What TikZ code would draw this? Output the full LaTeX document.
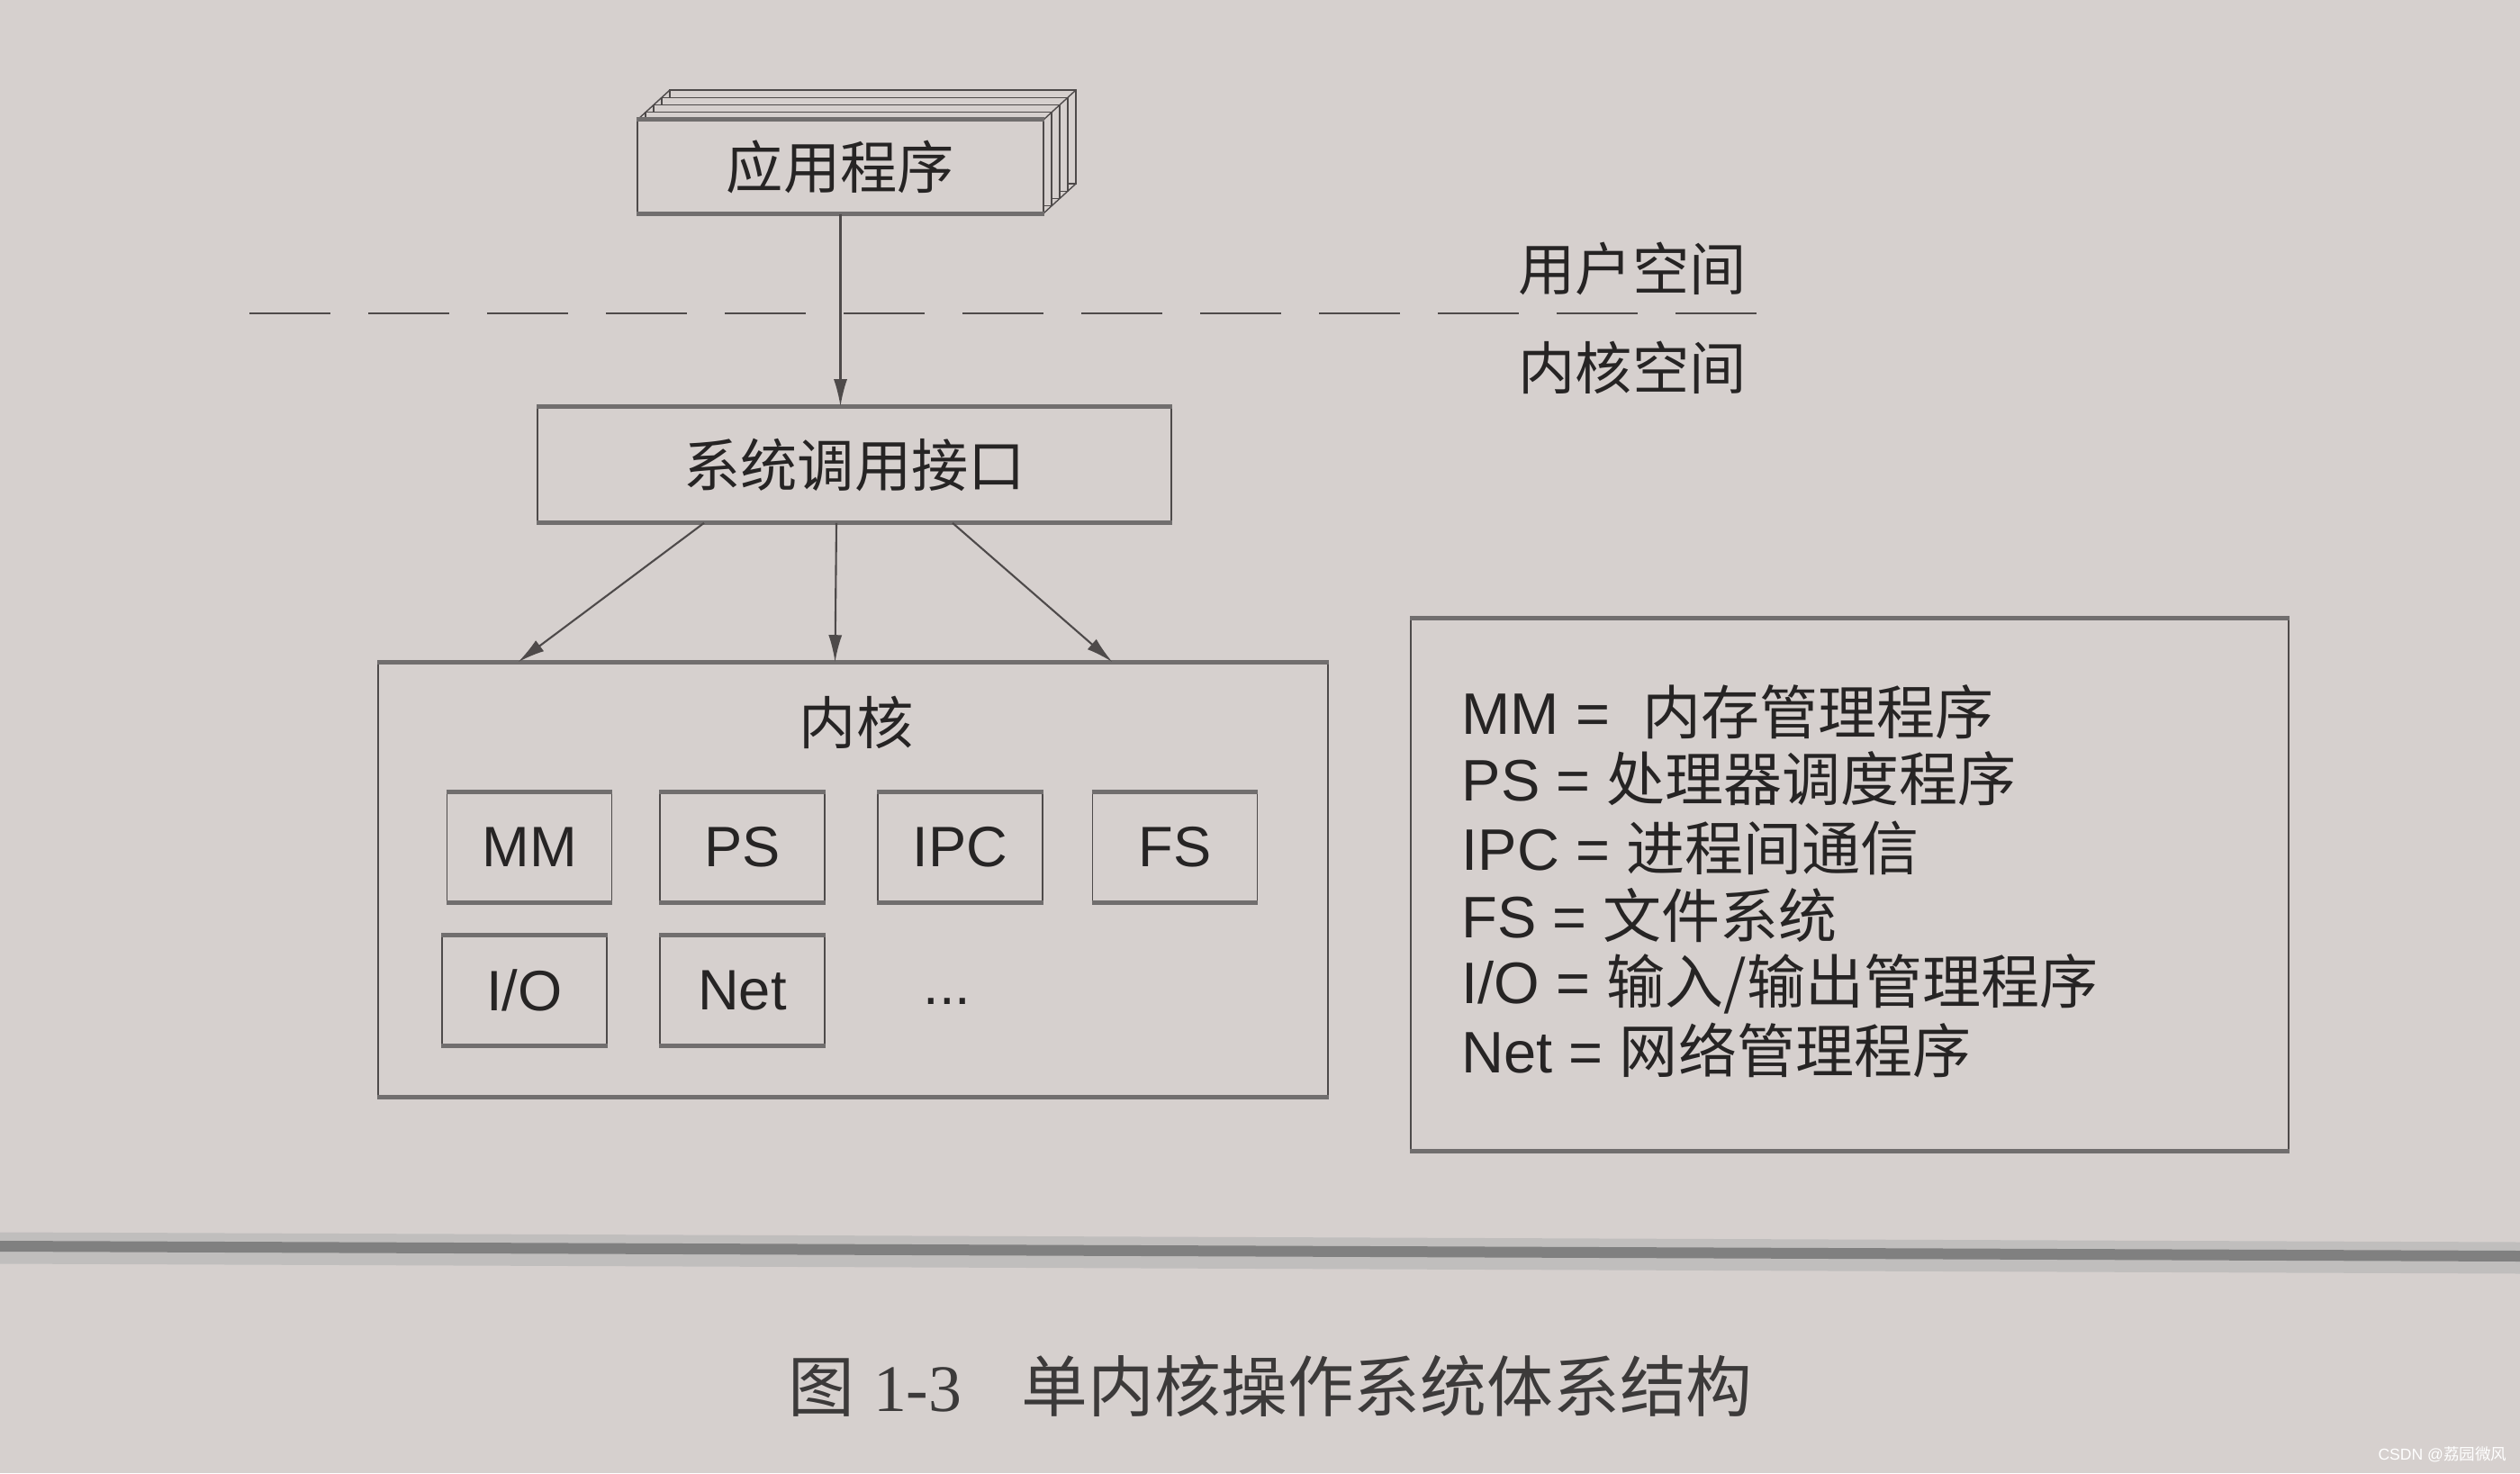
\documentclass[tikz,border=0pt]{standalone}
\usepackage{fontspec}
\setmainfont{Liberation Sans}
\newfontfamily\cjk{Noto Sans CJK SC}
\newfontfamily\capfont{Liberation Serif}
\usetikzlibrary{arrows.meta}
\definecolor{paper}{RGB}{214,208,206}
\definecolor{ink}{RGB}{38,36,36}
\definecolor{rule}{RGB}{78,74,74}
\tikzset{
  hline/.style={draw=rule!80, line width=1.5pt},
  box/.style={draw=rule, line width=0.45pt, fill=paper, text=ink,
    append after command={(\tikzlastnode.north west) edge[hline] (\tikzlastnode.north east)
      (\tikzlastnode.south west) edge[hline] (\tikzlastnode.south east)}},
  cn/.style={font=\fontsize{18pt}{21pt}\selectfont\cjk, text=ink},
  abbr/.style={box, font=\fontsize{18pt}{21pt}\selectfont, minimum width=1.83cm, minimum height=1.22cm},
  item/.style={anchor=west, inner sep=0pt, text=ink, font=\fontsize{18.5pt}{21pt}\selectfont},
  arr/.style={draw=rule, line width=0.6pt, -{Latex[length=3mm,width=1.5mm]}},
}
\begin{document}
\begin{tikzpicture}[y=-1cm]
  \useasboundingbox (0,0) rectangle (27.99,16.36);
  \fill[paper] (0,0) rectangle (27.99,16.36);
  % page fold
  \draw[line width=0.35cm, black!30, opacity=0.6] (0,13.86) -- (27.99,13.97);
  \draw[line width=0.12cm, black!50] (0,13.84) -- (27.99,13.95);

  % stacked pages behind the application box
  \foreach \k in {4,3,2,1}
    \draw[rule, line width=0.4pt, fill=paper, shift={({0.09*\k},{-0.0825*\k})}]
      (7.08,1.33) rectangle ++(4.51,1.04);
  \draw[rule, line width=0.4pt] (7.08,1.33) -- (7.44,1.00)
    (11.59,1.33) -- (11.95,1.00) (11.59,2.37) -- (11.95,2.04);
  \node (app) [box, cn, minimum width=4.51cm, minimum height=1.04cm] at (9.335,1.85) {应用程序};

  % user / kernel space
  \coordinate (dl) at (2.77,3.48);
  \coordinate (dr) at (19.90,3.48);
  \draw[rule, line width=0.5pt, dash pattern=on 0.9cm off 0.42cm] (dl) -- (dr);
  \node (user) [cn] at (18.13,2.98) {用户空间};
  \node (kspace) [cn] at (18.13,4.08) {内核空间};

  \node (sys) [box, cn, minimum width=7.04cm, minimum height=1.28cm] at (9.49,5.16) {系统调用接口};
  \node (kernel) [box, minimum width=10.55cm, minimum height=4.82cm] at (9.475,9.77) {};
  \node (kname) [cn] at (9.51,8.02) {内核};

  \draw[arr] (app.south) -- (app.south |- sys.north);
  \draw[arr] ([xshift=-1.67cm]sys.south) -- ([xshift=-3.72cm]kernel.north);
  \draw[arr] ([xshift=-0.2cm]sys.south) -- ([xshift=-0.2cm]kernel.north);
  \draw[arr] ([xshift=1.09cm]sys.south) -- ([xshift=2.88cm]kernel.north);

  % kernel parts
  \node (mm) [abbr] at (5.88,9.41) {MM};
  \node (ps) [abbr] at (8.245,9.41) {PS};
  \node (ipc) [abbr] at (10.665,9.41) {IPC};
  \node (fs) [abbr] at (13.05,9.41) {FS};
  \node (io) [abbr] at (5.825,11.00) {I/O};
  \node (net) [abbr] at (8.245,11.00) {Net};
  \node (dots) [text=ink, font=\fontsize{18pt}{21pt}\selectfont] at (10.52,11.12) {...};

  % legend
  \node (legend) [box, minimum width=9.75cm, minimum height=5.91cm] at (20.545,9.825) {};
  \node (lmm) [item] at (16.23,7.91) {MM =\ \ {\cjk 内存管理程序}};
  \node (lps) [item] at (16.23,8.65) {PS = {\cjk 处理器调度程序}};
  \node (lipc) [item] at (16.23,9.42) {IPC = {\cjk 进程间通信}};
  \node (lfs) [item] at (16.23,10.17) {FS = {\cjk 文件系统}};
  \node (lio) [item] at (16.23,10.93) {I/O = {\cjk 输入/输出管理程序}};
  \node (lnet) [item] at (16.23,11.66) {Net = {\cjk 网络管理程序}};

  \node (caption) [anchor=west, inner sep=0pt, text=ink!90, font=\fontsize{21pt}{24pt}\selectfont]
    at (8.75,15.39) {{\cjk 图} {\capfont 1-3}\hspace{0.9em}{\cjk 单内核操作系统体系结构}};
  \node (mark) [anchor=east, inner sep=0pt, text=white, font=\fontsize{5pt}{6pt}\selectfont]
    at (27.85,16.15) {CSDN @{\cjk 荔园微风}};
\end{tikzpicture}
\end{document}
